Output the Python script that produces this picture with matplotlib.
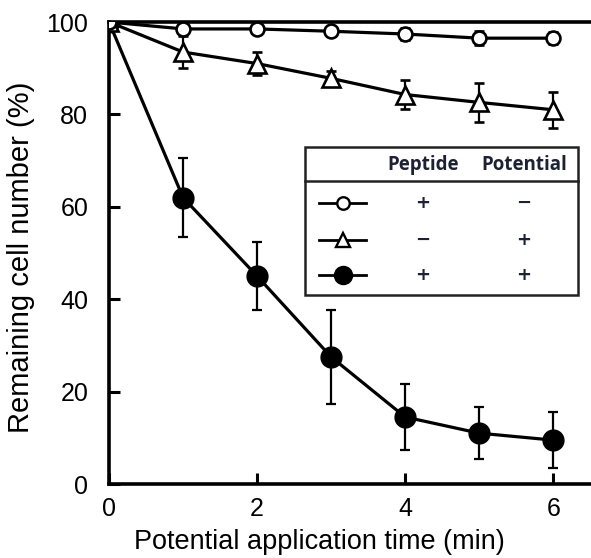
import matplotlib
matplotlib.use('Agg')
import matplotlib.pyplot as plt
from matplotlib.lines import Line2D
from matplotlib.patches import Rectangle

# data
time_min = [0, 1, 2, 3, 4, 5, 6]
pep_only = [100, 98.5, 98.5, 98, 97.4, 96.5, 96.5]
pep_only_err = [0, 1.0, 0.8, 1.0, 1.2, 1.5, 1.3]
pot_only = [100, 93.5, 91, 87.8, 84.3, 82.6, 81]
pot_only_err = [0, 3.5, 2.5, 1.5, 3.2, 4.3, 3.9]
both = [100, 62, 45, 27.5, 14.5, 11, 9.5]
both_err = [0, 8.5, 7.3, 10.2, 7.1, 5.6, 6.0]

header = ['Peptide', 'Potential']
legend_rows = [('+', '\u2212'), ('\u2212', '+'), ('+', '+')]

plt.rcParams['font.family'] = ['Liberation Sans', 'DejaVu Sans']

fig = plt.figure(figsize=(5.91, 5.58), dpi=100)
ax = fig.add_axes([109/591, 1-484/558, 482/591, 462/558])

lw = 2.3
ax.errorbar(time_min, both, yerr=both_err, color='black', lw=lw, marker='o',
            ms=15, mfc='black', mec='black', capsize=3.8, elinewidth=1.6,
            capthick=1.6, zorder=3)
ax.errorbar(time_min, pot_only, yerr=pot_only_err, color='black', lw=lw, marker='^',
            ms=12.5, mfc='white', mec='black', mew=1.9, capsize=3.8, elinewidth=1.6,
            capthick=1.6, zorder=4)
ax.errorbar(time_min, pep_only, yerr=pep_only_err, color='black', lw=lw, marker='o',
            ms=10, mfc='white', mec='black', mew=1.9, capsize=3.8, elinewidth=1.6,
            capthick=1.6, zorder=5)

ax.set_xlim(0, 6.51)
ax.set_ylim(0, 100)
ax.set_xticks([0, 2, 4, 6])
ax.set_yticks([0, 20, 40, 60, 80, 100])
ax.tick_params(direction='in', length=8, width=2.2, labelsize=18, color='black')
ax.tick_params(axis='x', pad=9)
ax.tick_params(axis='y', pad=15)
for s in ['left', 'bottom', 'top']:
    ax.spines[s].set_linewidth(2.6)
ax.spines['right'].set_visible(False)
for sp in ax.spines.values():
    sp.set_clip_on(False)

ax.set_xlabel('Potential application time (min)', fontsize=19.5)
ax.set_ylabel('Remaining cell number (%)', fontsize=21)
ax.xaxis.set_label_coords(0.436, -0.098)
ax.yaxis.set_label_coords(-0.153, 0.49)

# table-style legend
tc = '#1c2233'
box = Rectangle((0.407, 0.409), 0.566, 0.320, transform=ax.transAxes,
                fill=True, fc='white', ec='#222222', lw=1.8, zorder=6)
ax.add_patch(box)
ax.add_line(Line2D([0.407, 0.973], [0.656, 0.656], transform=ax.transAxes,
                   color='#222222', lw=1.8, zorder=7))
cols = [0.651, 0.861]
for c, h in zip(cols, header):
    ax.text(c, 0.690, h, transform=ax.transAxes, ha='center', va='center',
            fontsize=13.5, fontweight='bold', color=tc, family='Open Sans', zorder=7)
row_y = [0.608, 0.528, 0.452]
styles = [dict(marker='o', ms=9, mfc='white', mec='black', mew=1.7),
          dict(marker='^', ms=10, mfc='white', mec='black', mew=1.7),
          dict(marker='o', ms=13, mfc='black', mec='black')]
for y, st, signs in zip(row_y, styles, legend_rows):
    ax.add_line(Line2D([0.436, 0.533], [y, y], transform=ax.transAxes,
                       color='black', lw=2.0, zorder=7))
    ax.add_line(Line2D([0.485], [y], transform=ax.transAxes, ls='none',
                       zorder=8, **st))
    for c, sgn in zip(cols, signs):
        ax.text(c, y, sgn, transform=ax.transAxes, ha='center', va='center',
                fontsize=13, fontweight='bold', color=tc, family='DejaVu Sans',
                zorder=7)

fig.savefig('out.png', dpi=100)
